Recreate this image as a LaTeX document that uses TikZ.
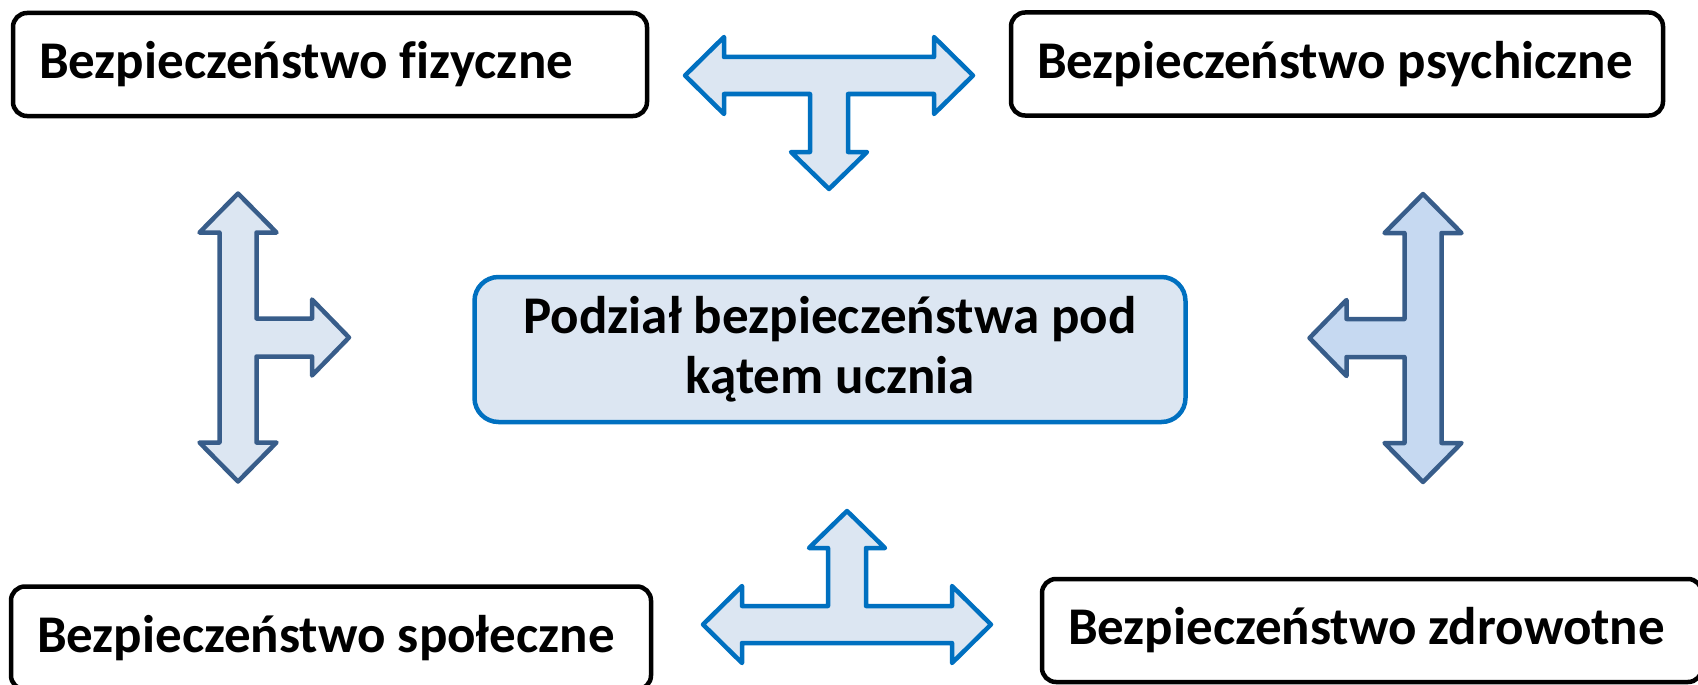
\documentclass[tikz,border=0pt]{standalone}
\usepackage{fontspec}
\setmainfont{Carlito}[Ligatures=NoCommon]

\definecolor{brightblue}{HTML}{0070C0}
\definecolor{paleblue}{HTML}{DCE6F2}
\definecolor{darkslate}{HTML}{385D8A}
\definecolor{midblue}{HTML}{C6D9F1}

\begin{document}
\begin{tikzpicture}[x=1pt,y=-1pt,
    kind/.style={draw, line width=4.5pt, rounded corners=14pt, text width=#1, align=flush left,
        inner xsep=26pt, inner ysep=0pt, minimum height=103pt,
        font=\bfseries\fontsize{53}{62}\selectfont},
    topic/.style={draw=brightblue, fill=paleblue, line width=4.5pt, rounded corners=24pt,
        minimum width=711pt, minimum height=145pt, align=center,
        font=\bfseries\fontsize{53}{60}\selectfont},
    tee/.style={line width=4.5pt, line join=round}]
\useasboundingbox (0,0) rectangle (1698,685);

\node[kind=582pt] (fizyczne) at (330,64.5) {\mbox{Bezpieczeństwo fizyczne}};
\node[kind=600pt] (psychiczne) at (1337,64) {\mbox{Bezpieczeństwo psychiczne}};
\node[kind=588pt] (spoleczne) at (331,638) {\mbox{Bezpieczeństwo społeczne}};
\node[kind=608pt] (zdrowotne) at (1372,630.5) {\mbox{Bezpieczeństwo zdrowotne}};

\node[topic] (podzial) at (830,349.5) {Podział bezpieczeństwa pod\\kątem ucznia};


% top
\begin{scope}[shift={(829,75.5)}]
\draw [tee, draw=brightblue, fill=paleblue] (-144,0) -- (-105,-38.5) -- (-105,-18.5) -- (105,-18.5) -- (105,-38.5) -- (144,0) -- (105,38.5) -- (105,18.5) -- (19,18.5) -- (19,76.5) -- (38,76.5) -- (0,113.5) -- (-38,76.5) -- (-19,76.5) -- (-19,18.5) -- (-105,18.5) -- (-105,38.5) -- cycle;
\end{scope}
% left
\begin{scope}[shift={(238,337.5)}, rotate=90]
\draw [tee, draw=darkslate, fill=paleblue] (-144,0) -- (-105,-38.5) -- (-105,-18.5) -- (105,-18.5) -- (105,-38.5) -- (144,0) -- (105,38.5) -- (105,18.5) -- (19,18.5) -- (19,74) -- (38,74) -- (0,111) -- (-38,74) -- (-19,74) -- (-19,18.5) -- (-105,18.5) -- (-105,38.5) -- cycle;
\end{scope}
% right
\begin{scope}[shift={(1423,338)}, rotate=-90]
\draw [tee, draw=darkslate, fill=midblue] (-144,0) -- (-105,-38.5) -- (-105,-18.5) -- (105,-18.5) -- (105,-38.5) -- (144,0) -- (105,38.5) -- (105,18.5) -- (19,18.5) -- (19,76.5) -- (38,76.5) -- (0,113.5) -- (-38,76.5) -- (-19,76.5) -- (-19,18.5) -- (-105,18.5) -- (-105,38.5) -- cycle;
\end{scope}
% bottom
\begin{scope}[shift={(847,624.5)}, rotate=180]
\draw [tee, draw=brightblue, fill=paleblue] (-144,0) -- (-105,-38.5) -- (-105,-18.5) -- (105,-18.5) -- (105,-38.5) -- (144,0) -- (105,38.5) -- (105,18.5) -- (19,18.5) -- (19,76.5) -- (38,76.5) -- (0,113.5) -- (-38,76.5) -- (-19,76.5) -- (-19,18.5) -- (-105,18.5) -- (-105,38.5) -- cycle;
\end{scope}

\end{tikzpicture}
\end{document}
